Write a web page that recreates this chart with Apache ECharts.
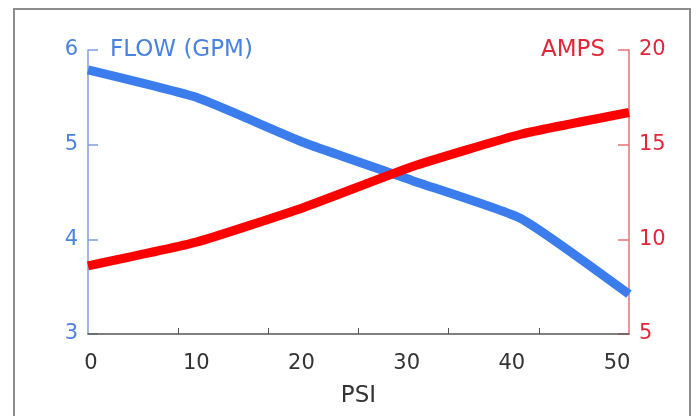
<!DOCTYPE html>
<html>
<head>
<meta charset="utf-8">
<script src="https://cdn.jsdelivr.net/npm/echarts@6/dist/echarts.min.js"></script>
<style>
html, body { margin: 0; padding: 0; background: #fff; }
#chart { width: 697px; height: 416px; }
</style>
</head>
<body>
<div id="chart"></div>
<script>
// pump curve: flow and current against pressure
var psi = [0, 10, 20, 30, 40, 50];
var flowGpm = [5.79, 5.50, 5.02, 4.62, 4.22, 3.42];
var amps = [8.6, 9.85, 11.7, 13.85, 15.55, 16.7];
var psiLabels = [0, 10, 20, 30, 40, 50];
var psiTicks = [8.33, 16.67, 25, 33.33, 41.67];

var font = 'DejaVu Sans, Verdana, sans-serif';
var blue = '#3b7ded';
var red = '#ff0000';

var flowData = [];
var ampsData = [];
for(var i = 0; i < psi.length; i++){
	flowData.push([psi[i], flowGpm[i]]);
	ampsData.push([psi[i], amps[i]]);
}

var chart = echarts.init(document.getElementById('chart'));
var option = {
	animation: false,
	backgroundColor: '#fff',
	graphic: [{
		type: 'rect',
		shape: { x: 14, y: 9, width: 676, height: 420 },
		style: { fill: 'none', stroke: '#8c8c8c', lineWidth: 2 },
		z: -1
	}],
	grid: { left: 88, right: 68, top: 50, bottom: 82 },
	xAxis: [{
		// data axis, ticks split in sixths
		type: 'value',
		min: 0,
		max: 50,
		axisLine: { show: true, onZero: false, lineStyle: { color: '#555', width: 1.5 } },
		axisTick: { show: true, inside: true, length: 6, customValues: psiTicks, lineStyle: { color: '#555' } },
		axisLabel: { show: false },
		splitLine: { show: false },
		z: 5
	}, {
		// label axis
		type: 'value',
		min: -0.29,
		max: 51.14,
		position: 'bottom',
		axisLine: { show: false, onZero: false },
		axisTick: { show: false },
		splitLine: { show: false },
		axisLabel: {
			customValues: psiLabels,
			margin: 19,
			fontFamily: font,
			fontSize: 21,
			color: '#333'
		},
		name: 'PSI',
		nameLocation: 'middle',
		nameGap: 51,
		nameTextStyle: { fontFamily: font, fontSize: 23, color: '#333' }
	}],
	yAxis: [{
		type: 'value',
		min: 3,
		max: 6,
		interval: 1,
		position: 'left',
		name: 'FLOW (GPM)',
		nameLocation: 'end',
		nameGap: 0,
		nameTextStyle: {
			fontFamily: font, fontSize: 23, color: '#4a82e0',
			align: 'left', verticalAlign: 'middle', padding: [0, 0, 0, 22]
		},
		axisLine: { show: true, onZero: false, lineStyle: { color: '#7f9ee0', width: 1.5 } },
		axisTick: { show: true, inside: true, length: 10, lineStyle: { color: '#7f9ee0', width: 1.5 } },
		axisLabel: { margin: 10, fontFamily: font, fontSize: 21, color: '#4a82e0' },
		splitLine: { show: false }
	}, {
		type: 'value',
		min: 5,
		max: 20,
		interval: 5,
		position: 'right',
		name: 'AMPS',
		nameLocation: 'end',
		nameGap: 0,
		nameTextStyle: {
			fontFamily: font, fontSize: 23, color: '#e0283a',
			align: 'right', verticalAlign: 'middle', padding: [0, 24, 0, 0]
		},
		axisLine: { show: true, onZero: false, lineStyle: { color: '#e8707a', width: 1.5 } },
		axisTick: { show: true, inside: true, length: 11, lineStyle: { color: '#e8707a', width: 1.5 } },
		axisLabel: { margin: 10, fontFamily: font, fontSize: 21, color: '#e0283a' },
		splitLine: { show: false }
	}],
	series: [{
		name: 'FLOW (GPM)',
		type: 'line',
		xAxisIndex: 0,
		yAxisIndex: 0,
		data: flowData,
		symbol: 'none',
		smooth: 0.15,
		lineStyle: { color: blue, width: 9 },
		z: 3
	}, {
		name: 'AMPS',
		type: 'line',
		xAxisIndex: 0,
		yAxisIndex: 1,
		data: ampsData,
		symbol: 'none',
		smooth: 0.15,
		lineStyle: { color: red, width: 9 },
		z: 4
	}]
};
chart.setOption(option);
</script>
</body>
</html>
